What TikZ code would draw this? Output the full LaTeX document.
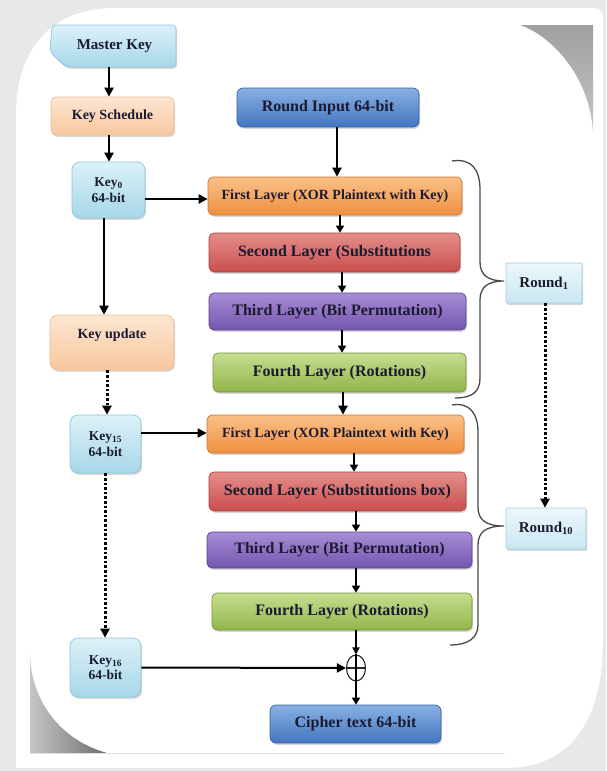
\documentclass[tikz,border=0pt]{standalone}
\usepackage{fontspec}
\setmainfont{Liberation Serif}
\usetikzlibrary{arrows.meta,shadows,shapes.geometric}
\definecolor{bgc}{HTML}{E8E8E8}
\definecolor{txt}{HTML}{1A1A30}
\definecolor{orT}{HTML}{FBC088}
\definecolor{orB}{HTML}{EF9040}
\definecolor{orD}{HTML}{C87935}
\definecolor{rdT}{HTML}{E58E8A}
\definecolor{rdB}{HTML}{C94F4D}
\definecolor{rdD}{HTML}{A04442}
\definecolor{puT}{HTML}{A98DD5}
\definecolor{puB}{HTML}{7455AF}
\definecolor{puD}{HTML}{57438E}
\definecolor{grT}{HTML}{C6DE90}
\definecolor{grB}{HTML}{92B54B}
\definecolor{grD}{HTML}{74953A}
\definecolor{blT}{HTML}{88B0E3}
\definecolor{blB}{HTML}{4476BF}
\definecolor{blD}{HTML}{3862A2}
\definecolor{cyT}{HTML}{DCF1F8}
\definecolor{cyB}{HTML}{A6D7E8}
\definecolor{cyD}{HTML}{8FC6D9}
\definecolor{peT}{HTML}{FDE6D2}
\definecolor{peB}{HTML}{F8C79E}
\definecolor{peD}{HTML}{F0BC92}
\definecolor{roT}{HTML}{ECF7FB}
\definecolor{roB}{HTML}{C9E7F1}
\definecolor{roD}{HTML}{A0CEDF}
\definecolor{brc}{HTML}{4A4A4A}
\begin{document}
\begin{tikzpicture}[x=1pt,y=-1pt,
  box/.style={draw, line width=0.7pt, align=center, inner sep=1pt, text=txt,
    drop shadow={shadow xshift=1.2pt, shadow yshift=-1.8pt, opacity=0.3}},
  f13/.style={font=\fontsize{13.5}{15.5}\selectfont\bfseries},
  f14/.style={font=\fontsize{14}{16}\selectfont\bfseries},
  f15/.style={font=\fontsize{15}{17}\selectfont\bfseries},
  f16/.style={font=\fontsize{16}{18}\selectfont\bfseries},
  layer/.style={box, rounded corners=5pt, minimum height=38pt},
  layerO/.style={layer, top color=orT, bottom color=orB, draw=orD},
  layerR/.style={layer, top color=rdT, bottom color=rdB, draw=rdD},
  layerP/.style={layer, top color=puT, bottom color=puB, draw=puD},
  layerG/.style={layer, top color=grT, bottom color=grB, draw=grD},
  blueB/.style={box, rounded corners=6pt, top color=blT, bottom color=blB, draw=blD},
  keyB/.style={box, rounded corners=8pt, top color=cyT, bottom color=cyB, draw=cyD},
  peachB/.style={box, rounded corners=5pt, top color=peT, bottom color=peB, draw=peD},
  roundB/.style={box, rounded corners=1pt, top color=roT, bottom color=roB, draw=roD},
  arr/.style={line width=2.3pt, black, -{Triangle[length=9pt,width=9pt]}},
  darr/.style={arr, line width=3pt, dash pattern=on 2.6pt off 2pt},
  bracestyle/.style={draw=brc, line width=1.3pt}
]
\useasboundingbox (0,0) rectangle (606,771);
% page background and card
\fill[bgc] (0,0) rectangle (606,771);
\fill[white] (16,115) .. controls (16,45) and (55,8) .. (115,8) -- (594,8)
  .. controls (600,8) and (603,12) .. (603,18) -- (603,640)
  .. controls (603,715) and (575,768) .. (505,768) -- (16,768) -- cycle;
% gray corners of the inner picture
\path[top color=gray!75, bottom color=gray!45]
  (520,25) -- (593,25) -- (593,133) .. controls (590,75) and (550,35) .. (520,25) -- cycle;
\path[left color=gray!45, right color=gray!85!black]
  (30,652) -- (30,753) -- (107,753) .. controls (60,740) and (30,700) .. (30,652) -- cycle;
\draw[gray!25, line width=0.8pt] (30,753) -- (505,753);

% Master Key shape
\path[top color=cyT, bottom color=cyB, draw=cyD, line width=0.7pt, rounded corners=4pt,
  drop shadow={shadow xshift=1.2pt, shadow yshift=-1.8pt, opacity=0.3}]
  (52,25) -- (176,25) -- (176,67) -- (66,67) -- (50,52) -- cycle;
\node[f15, text=txt, minimum width=123pt, minimum height=42pt, inner sep=0pt] (mk) at (114.5,46) {Master Key};

% left column
\node[peachB, f14, minimum width=123pt, minimum height=38pt] (ks) at (112.5,116) {Key Schedule};
\node[keyB, f13, minimum width=73pt, minimum height=56pt] (k0) at (108.5,190) {Key\textsubscript{0}\\64-bit};
\node[peachB, f14, rounded corners=8pt, minimum width=124pt, minimum height=55pt] (ku) at (112,342.5)
  {\raisebox{7pt}[\height][\depth]{Key update}};
\node[keyB, f13, minimum width=71pt, minimum height=58pt] (k15) at (105.5,444) {Key\textsubscript{15}\\64-bit};
\node[keyB, f13, minimum width=71pt, minimum height=59pt] (k16) at (105.5,667.5) {Key\textsubscript{16}\\64-bit};

% main column
\node[blueB, f16, minimum width=182pt, minimum height=39pt] (ri) at (328,107.5) {Round Input 64-bit};
\node[layerO, f14, minimum width=254pt] (l1a) at (335,196) {First Layer (XOR Plaintext with Key)};
\node[layerR, f16, minimum width=251pt, minimum height=39pt] (l2a) at (334.5,252.5) {Second Layer (Substitutions};
\node[layerP, f16, minimum width=257pt, minimum height=37pt] (l3a) at (337.5,311.5) {Third Layer (Bit Permutation)};
\node[layerG, f16, minimum width=253pt, minimum height=39pt] (l4a) at (339.5,372.5) {Fourth Layer (Rotations)};
\node[layerO, f14, minimum width=257pt] (l1b) at (335.5,434) {First Layer (XOR Plaintext with Key)};
\node[layerR, f16, minimum width=257pt, minimum height=39pt] (l2b) at (337.5,491.5) {Second Layer (Substitutions box)};
\node[layerP, f16, minimum width=265pt, minimum height=36pt] (l3b) at (339.5,550) {Third Layer (Bit Permutation)};
\node[layerG, f16, minimum width=260pt, minimum height=37pt] (l4b) at (342,611.5) {Fourth Layer (Rotations)};
\node[draw=black!85, ellipse, line width=1.1pt, minimum width=19pt, minimum height=26pt, inner sep=0pt] (xor) at (356,668) {};
\node[blueB, f16, minimum width=171pt, minimum height=38pt] (ct) at (355.5,724) {Cipher text 64-bit};

% rounds
\node[roundB, f15, minimum width=76pt, minimum height=40pt] (r1) at (544,283) {Round\textsubscript{1}};
\node[roundB, f15, minimum width=80pt, minimum height=41pt] (r10) at (546,528.5) {Round\textsubscript{10}};

% braces
\draw[bracestyle] (452,161) .. controls (472,158) and (480,170) .. (480,190) -- (480,262)
  .. controls (480,275) and (488,281) .. (504,281) .. controls (488,281) and (480,287) .. (480,300)
  -- (480,378) .. controls (480,392) and (472,398) .. (455,398);
\draw[bracestyle] (452,405) .. controls (470,402) and (478,414) .. (478,432) -- (478,507)
  .. controls (478,520) and (486,526) .. (504,526) .. controls (486,526) and (478,532) .. (478,545)
  -- (478,625) .. controls (478,638) and (468,645) .. (450,645);

% coordinates for connector columns/rows
\coordinate (xk) at (109,0);
\coordinate (xk2) at (104,0);
\coordinate (xk3) at (107,0);
\coordinate (xk4) at (105,0);
\coordinate (x1) at (337,0);
\coordinate (x2) at (340,0);
\coordinate (x3) at (342,0);
\coordinate (x4) at (343,0);
\coordinate (x5) at (354,0);
\coordinate (x6) at (356,0);
\coordinate (xr) at (545,0);
\coordinate (y1) at (0,199);
\coordinate (y2) at (0,433);

% connectors
\draw[arr] (mk.south -| xk) -- (ks.north -| xk);
\draw[arr] (ks.south -| xk) -- (k0.north -| xk);
\draw[arr] (k0.south -| xk2) -- (ku.north -| xk2);
\draw[darr] (ku.south -| xk3) -- (k15.north -| xk3);
\draw[darr] (k15.south -| xk4) -- (k16.north -| xk4);
\draw[arr] (k0.east |- y1) -- (l1a.west |- y1);
\draw[arr, line width=2pt] (k15.east |- y2) -- (l1b.west |- y2);
\draw[arr, line width=2pt] (k16.east) -- (xor.west);
\draw[arr] (ri.south -| x1) -- (l1a.north -| x1);
\draw[arr, line width=2pt, -{Triangle[length=7pt,width=8pt]}] (l1a.south -| x2) -- (l2a.north -| x2);
\draw[arr, line width=2pt, -{Triangle[length=7pt,width=8pt]}] (l2a.south -| x3) -- (l3a.north -| x3);
\draw[arr, line width=2pt, -{Triangle[length=7pt,width=8pt]}] (l3a.south -| x3) -- (l4a.north -| x3);
\draw[arr, line width=2.6pt] (l4a.south -| x4) -- (l1b.north -| x4);
\draw[arr, line width=2pt, -{Triangle[length=7pt,width=8pt]}] (l1b.south -| x5) -- (l2b.north -| x5);
\draw[arr, line width=2pt, -{Triangle[length=7pt,width=8pt]}] (l2b.south -| x6) -- (l3b.north -| x6);
\draw[arr, line width=2pt, -{Triangle[length=7pt,width=8pt]}] (l3b.south -| x6) -- (l4b.north -| x6);
\draw[arr, line width=2.3pt, -{Triangle[length=7pt,width=7pt]}] (l4b.south -| x6) -- (xor.north);
\draw[black!85, line width=1.1pt] (xor.west) -- (xor.east);
\draw[black, line width=2pt] (xor.north) -- (xor.south);
\draw[arr, line width=2pt, -{Triangle[length=7pt,width=8pt]}] (xor.south) -- (ct.north -| x6);
\draw[darr] (r1.south -| xr) -- (r10.north -| xr);
\end{tikzpicture}
\end{document}
